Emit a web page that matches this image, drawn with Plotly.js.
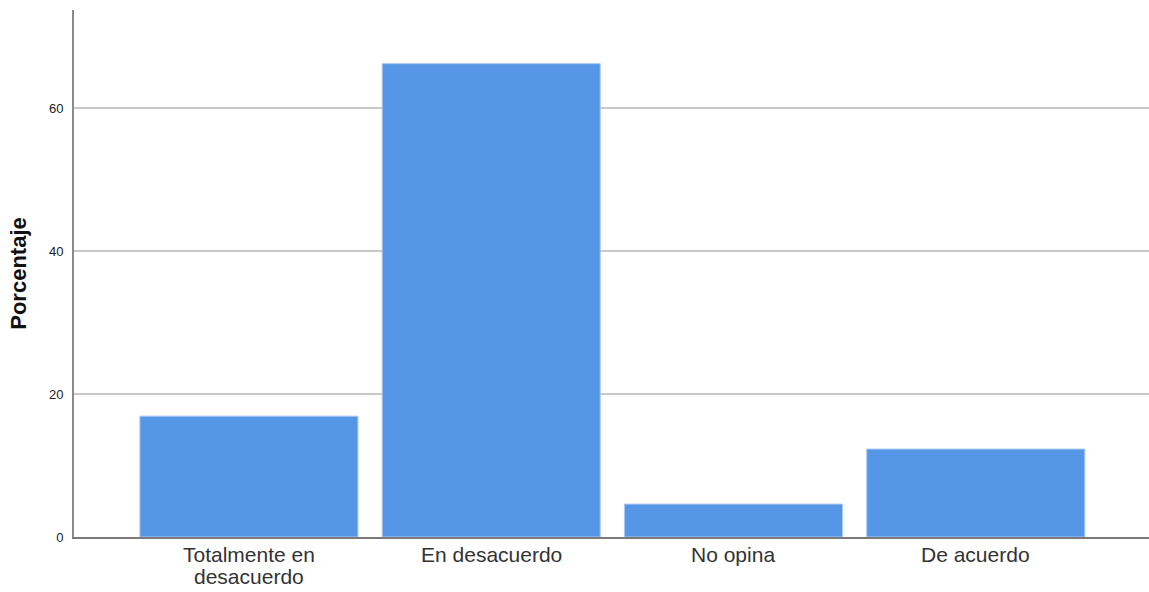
<!DOCTYPE html>
<html>
<head>
<meta charset="utf-8">
<script src="https://cdn.plot.ly/plotly-3.0.1.min.js"></script>
<style>html,body{margin:0;padding:0;background:#fff;}#chart{width:1149px;height:592px;}</style>
</head>
<body>
<div id="chart"></div>
<script>
const categories = ["Totalmente en<br>desacuerdo", "En desacuerdo", "No opina", "De acuerdo"];
const porcentaje = [16.9, 66.2, 4.6, 12.3];
const yTicks = [0, 20, 40, 60];

const xPos = categories.map((c, i) => i);

const trace = {
  type: "bar",
  x: xPos,
  y: porcentaje,
  marker: {color: "#5596e6", line: {color: "#a9c9f2", width: 1}},
  width: 0.9,
  hoverinfo: "skip"
};

// category labels as annotations (tight line spacing like the reference)
const annotations = [];
categories.forEach((c, i) => {
  c.split("<br>").forEach((line, j) => {
    annotations.push({
      x: i, xref: "x", y: 0, yref: "paper",
      yanchor: "top", xanchor: "center",
      yshift: -4 - j * 22,
      text: line, showarrow: false,
      font: {size: 21, color: "#333", family: "Liberation Sans, Arial, sans-serif"}
    });
  });
});

const layout = {
  width: 1149, height: 592,
  margin: {l: 74, r: 0, t: 10, b: 55},
  paper_bgcolor: "#ffffff",
  plot_bgcolor: "#ffffff",
  showlegend: false,
  font: {family: "Liberation Sans, Arial, sans-serif", color: "#222"},
  annotations: annotations,
  xaxis: {
    range: [-0.722, 3.715],
    tickvals: xPos,
    showticklabels: false,
    showgrid: false,
    zeroline: false,
    showline: true, linecolor: "#7a7a7a", linewidth: 1.5,
    ticks: ""
  },
  yaxis: {
    range: [0, 73.7],
    tickvals: yTicks,
    ticktext: yTicks.map(String),
    tickfont: {size: 13, color: "#222"},
    showgrid: true, gridcolor: "#c8c8c8", gridwidth: 1.5,
    zeroline: false,
    showline: true, linecolor: "#8a8a8a", linewidth: 2,
    ticks: "", ticklabelstandoff: 6,
    title: {text: "<b>Porcentaje</b>", font: {size: 22, color: "#111"}, standoff: 16}
  }
};

Plotly.newPlot("chart", [trace], layout, {displayModeBar: false, staticPlot: true});
</script>
</body>
</html>
